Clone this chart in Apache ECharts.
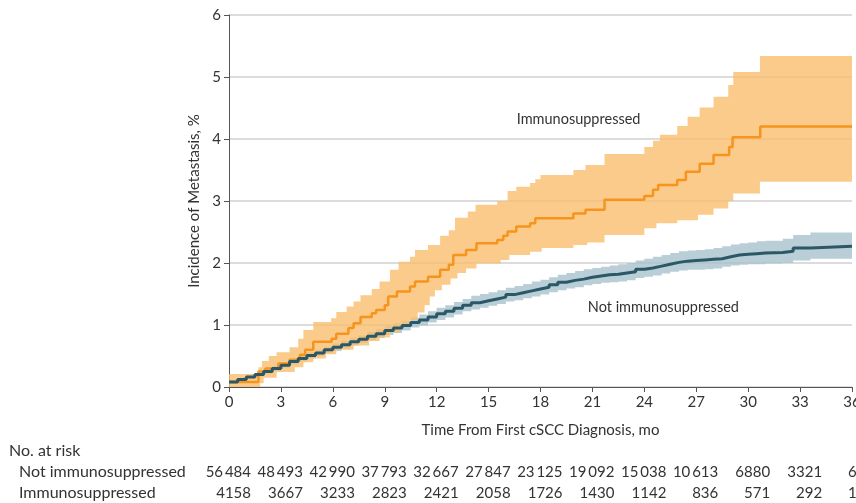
<!DOCTYPE html>
<html><head><meta charset="utf-8">
<script src="https://cdn.jsdelivr.net/npm/echarts@6/dist/echarts.min.js"></script>
<style>html,body{margin:0;padding:0;background:#fff}#c{width:856px;height:503px}</style>
</head><body><div id="c"></div>
<script>
// ---- Data ----
const xTicks = [0,3,6,9,12,15,18,21,24,27,30,33,36];
const yTicks = [0,1,2,3,4,5,6];

// Immunosuppressed: estimate
const immT   = [0,1.7,2.1,2.85,3.5,4.1,4.4,4.87,5.93,6.2,6.9,7.2,7.6,8.25,8.5,9.0,9.2,9.7,10.46,10.75,11.5,12.2,12.7,12.96,13.7,14.3,15.5,15.85,16.1,16.6,17.4,17.7,19.9,20.6,21.7,24.0,24.5,24.8,25.9,26.4,27.2,28.0,28.9,29.1,30.7,36];
const immEst = [0.08,0.25,0.30,0.38,0.44,0.52,0.60,0.73,0.78,0.86,0.95,1.03,1.13,1.19,1.24,1.32,1.46,1.54,1.62,1.70,1.78,1.89,1.97,2.13,2.21,2.32,2.37,2.44,2.51,2.59,2.64,2.72,2.80,2.86,3.02,3.08,3.18,3.26,3.34,3.47,3.60,3.74,3.87,4.03,4.20,4.20];
// Immunosuppressed: upper CI
const immUpT = [0,1.7,1.9,2.3,2.75,3.5,4.0,4.3,4.87,5.9,6.2,6.8,7.2,7.6,8.25,8.7,9.3,9.8,10.46,10.75,11.5,12.2,12.7,13.06,13.8,14.25,15.5,16.1,16.6,17.4,17.7,18.0,19.9,20.6,21.7,24.0,24.5,24.9,25.9,26.5,27.2,28.0,28.85,29.14,30.68,36];
const immUp  = [0.21,0.32,0.42,0.50,0.56,0.64,0.78,0.92,1.05,1.11,1.21,1.30,1.38,1.48,1.58,1.70,1.89,2.02,2.10,2.21,2.29,2.44,2.53,2.73,2.83,2.94,3.00,3.16,3.23,3.29,3.35,3.42,3.50,3.58,3.76,3.87,3.97,4.07,4.21,4.36,4.51,4.68,4.87,5.08,5.34,5.34];
// Immunosuppressed: lower CI
const immLoT = [0,1.8,2.0,2.75,3.8,4.3,4.87,5.6,6.2,7.2,8.1,8.7,9.3,9.9,10.46,10.9,11.3,11.6,11.9,12.3,12.8,13.2,13.7,14.3,15.7,16.2,17.4,18.07,19.9,20.7,21.7,24.0,24.7,25.9,27.1,28.0,28.85,29.14,30.68,36];
const immLo  = [0,0.06,0.15,0.24,0.32,0.40,0.46,0.53,0.60,0.67,0.74,0.80,0.88,0.98,1.08,1.20,1.32,1.46,1.56,1.65,1.75,1.84,1.91,1.99,2.05,2.13,2.18,2.24,2.29,2.33,2.45,2.56,2.64,2.69,2.78,2.88,3.00,3.12,3.31,3.31];

// Not immunosuppressed: estimate and CI (shared times)
const notT   = [0,0.5,1,1.5,2,2.5,3,3.5,4,4.5,5,5.5,6,6.5,7,7.5,8,8.5,9,9.5,10,10.5,11,11.5,12,12.5,13,13.5,14,14.5,15,15.5,16,16.5,17,17.5,18,18.5,19,19.5,20,20.5,21,21.5,22,22.5,23,23.5,24,24.5,25,25.5,26,26.5,27,27.5,28,28.5,29,29.5,30,30.5,31,32,32.6,33.6,36];
const notEst = [0.08,0.12,0.16,0.20,0.25,0.30,0.35,0.41,0.46,0.51,0.55,0.60,0.64,0.68,0.73,0.77,0.82,0.86,0.91,0.95,0.99,1.04,1.08,1.13,1.18,1.22,1.27,1.32,1.36,1.39,1.42,1.45,1.49,1.52,1.55,1.58,1.61,1.65,1.69,1.72,1.74,1.77,1.79,1.81,1.82,1.84,1.86,1.90,1.92,1.95,1.98,2.01,2.03,2.04,2.05,2.06,2.07,2.10,2.13,2.14,2.15,2.16,2.17,2.19,2.24,2.27,2.27];
const notLo  = [0.05,0.09,0.13,0.17,0.21,0.26,0.31,0.36,0.41,0.46,0.50,0.55,0.58,0.62,0.67,0.71,0.75,0.79,0.84,0.87,0.91,0.96,0.99,1.04,1.08,1.12,1.17,1.22,1.25,1.28,1.31,1.34,1.38,1.40,1.43,1.46,1.49,1.53,1.56,1.59,1.61,1.64,1.66,1.68,1.69,1.70,1.72,1.76,1.78,1.80,1.83,1.86,1.88,1.89,1.89,1.90,1.91,1.94,1.96,1.97,1.98,1.98,1.99,2.00,2.04,2.07,2.07];
const notUp  = [0.11,0.15,0.19,0.23,0.29,0.34,0.39,0.45,0.51,0.56,0.60,0.65,0.70,0.74,0.79,0.83,0.89,0.93,0.98,1.03,1.07,1.12,1.17,1.22,1.28,1.32,1.37,1.42,1.47,1.50,1.53,1.56,1.60,1.63,1.66,1.70,1.73,1.77,1.81,1.84,1.87,1.90,1.92,1.94,1.96,1.98,2.00,2.04,2.07,2.10,2.13,2.16,2.19,2.20,2.21,2.22,2.24,2.27,2.30,2.32,2.33,2.35,2.36,2.39,2.45,2.49,2.49];

// Number at risk
const riskTimes = [0,3,6,9,12,15,18,21,24,27,30,33,36];
const riskNot = [56484,48493,42990,37793,32667,27847,23125,19092,15038,10613,6880,3321,615];
const riskImm = [4158,3667,3233,2823,2421,2058,1726,1430,1142,836,571,292,105];

// ---- Helpers ----
const FONT = 'Lato';
const TXT = '#333333';
function pairs(t, v){ return t.map((x,i)=>[x, v[i]]); }
function stepPts(t, v){
  const out = [];
  for (let i=0;i<t.length;i++){
    if (i>0) out.push([t[i], v[i-1]]);
    out.push([t[i], v[i]]);
  }
  return out;
}
function bandSeries(name, upT, up, loT, lo, color, z){
  const upper = stepPts(upT, up);
  const lower = stepPts(loT, lo).reverse();
  return {
    name, type:'custom', z, silent:true, clip:true,
    data:[0],
    renderItem:function(params, api){
      const pts = upper.concat(lower).map(p=>api.coord(p));
      return {type:'polygon', shape:{points:pts}, style:{fill:color}, silent:true};
    }
  };
}
function fmtThin(n){
  const s = String(n);
  if (s.length<=4) return s;
  return s.slice(0, s.length-3) + '\u2009' + s.slice(s.length-3);
}

const chart = echarts.init(document.getElementById('c'), null, {renderer:'canvas'});
chart.setOption({
  animation:false,
  backgroundColor:'#fff',
  grid:{left:229, right:4, top:15, bottom:116, containLabel:false, outerBoundsMode:'none'},
  xAxis:{
    type:'value', min:0, max:36, interval:3,
    name:'Time From First cSCC Diagnosis, mo', nameLocation:'middle', nameGap:36,
    nameTextStyle:{fontFamily:FONT, fontSize:15, color:TXT},
    axisLine:{show:true, lineStyle:{color:'#555', width:1}},
    axisTick:{show:true, length:5, lineStyle:{color:'#555'}},
    axisLabel:{fontFamily:FONT, fontSize:15, color:TXT, margin:8, hideOverlap:false,
      formatter:v=> xTicks.indexOf(v)>=0 ? String(v) : ''},
    splitLine:{show:false}
  },
  yAxis:{
    type:'value', min:0, max:6, interval:1,
    name:'Incidence of Metastasis, %', nameLocation:'middle', nameGap:24,
    nameTextStyle:{fontFamily:FONT, fontSize:15, color:TXT},
    axisLine:{show:true, lineStyle:{color:'#555', width:1}},
    axisTick:{show:true, length:5, lineStyle:{color:'#555'}},
    axisLabel:{fontFamily:FONT, fontSize:15, color:TXT, margin:8,
      formatter:v=> yTicks.indexOf(v)>=0 ? String(v) : ''},
    splitLine:{show:true, lineStyle:{color:'#dcdcdc', width:2}}
  },
  series:[
    bandSeries('Not immunosuppressed CI', notT, notUp, notT, notLo, 'rgba(168,194,204,0.8)', 1),
    bandSeries('Immunosuppressed CI', immUpT, immUp, immLoT, immLo, 'rgba(250,190,110,0.8)', 2),
    {name:'Immunosuppressed', type:'line', step:'end', z:3, symbol:'none',
     data:pairs(immT, immEst), lineStyle:{color:'#f7941d', width:2.5}},
    {name:'Not immunosuppressed', type:'line', step:'end', z:4, symbol:'none',
     data:pairs(notT, notEst), lineStyle:{color:'#2b5866', width:3}}
  ]
});

// Annotations and number-at-risk table positioned through the chart's scales
const g = [];
const p1 = chart.convertToPixel({gridIndex:0}, [20.2, 4.32]);
g.push({type:'text', x:p1[0], y:p1[1], style:{text:'Immunosuppressed', font:'14.5px '+FONT, fill:TXT, textAlign:'center', textVerticalAlign:'middle'}});
const p2 = chart.convertToPixel({gridIndex:0}, [25.1, 1.29]);
g.push({type:'text', x:p2[0], y:p2[1], style:{text:'Not immunosuppressed', font:'14.5px '+FONT, fill:TXT, textAlign:'center', textVerticalAlign:'middle'}});
g.push({type:'text', x:9, y:451, style:{text:'No. at risk', font:'16px '+FONT, fill:TXT, textAlign:'left', textVerticalAlign:'middle'}});
g.push({type:'text', x:19, y:472, style:{text:'Not immunosuppressed', font:'16px '+FONT, fill:TXT, textAlign:'left', textVerticalAlign:'middle'}});
g.push({type:'text', x:19, y:493, style:{text:'Immunosuppressed', font:'16px '+FONT, fill:TXT, textAlign:'left', textVerticalAlign:'middle'}});
riskTimes.forEach((t,i)=>{
  const x = chart.convertToPixel({xAxisIndex:0}, t) + 22;
  g.push({type:'text', x:x, y:472, style:{text:fmtThin(riskNot[i]), font:'15px '+FONT, fill:TXT, textAlign:'right', textVerticalAlign:'middle'}});
  g.push({type:'text', x:x, y:493, style:{text:String(riskImm[i]), font:'15px '+FONT, fill:TXT, textAlign:'right', textVerticalAlign:'middle'}});
});
chart.setOption({graphic:g});
</script>
</body></html>
